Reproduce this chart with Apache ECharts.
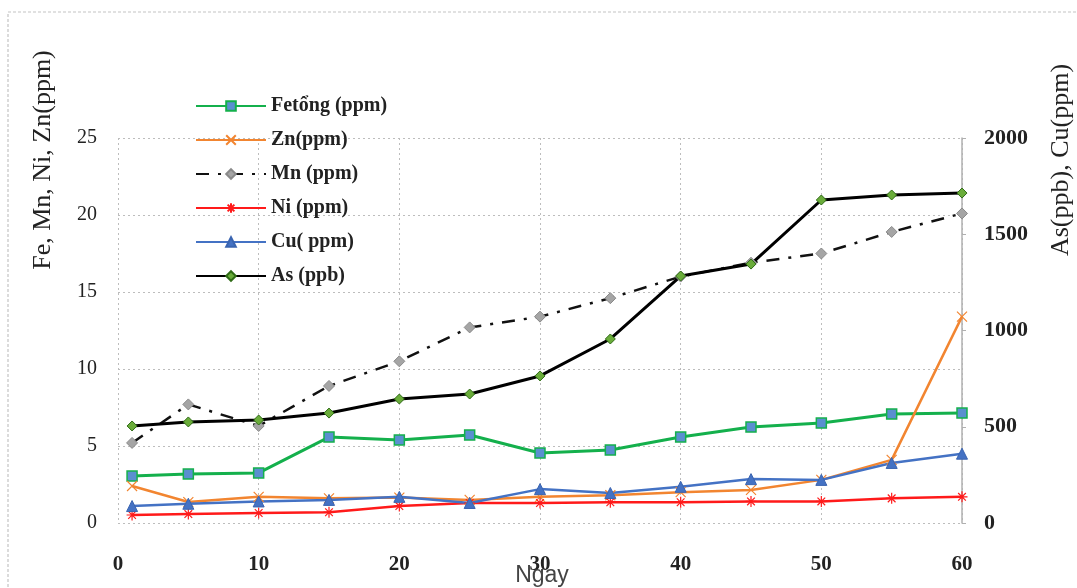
<!DOCTYPE html>
<html>
<head>
<meta charset="utf-8">
<style>
  html, body { margin: 0; padding: 0; background: #fff; }
  #chart { width: 1077px; height: 588px; }
</style>
<script src="https://cdn.jsdelivr.net/npm/echarts@6/dist/echarts.min.js"></script>
</head>
<body>
<div id="chart"></div>
<script>
// Sampling days
const days = [1, 5, 10, 15, 20, 25, 30, 35, 40, 45, 50, 55, 60];

// Left axis series (ppm)
const feTong = [3.05, 3.18, 3.25, 5.58, 5.39, 5.71, 4.55, 4.74, 5.58, 6.23, 6.49, 7.08, 7.14];
const zn = [2.4, 1.36, 1.7, 1.6, 1.65, 1.5, 1.7, 1.8, 2.0, 2.15, 2.8, 4.1, 13.4];
const mn = [5.2, 7.7, 6.3, 8.9, 10.5, 12.7, 13.4, 14.6, 16.0, 16.9, 17.5, 18.9, 20.1];
const ni = [0.52, 0.58, 0.65, 0.7, 1.1, 1.3, 1.3, 1.35, 1.35, 1.4, 1.4, 1.6, 1.7];

// Right axis series
const cu = [88, 100, 112, 120, 136, 104, 176, 156, 188, 228, 224, 312, 360];
const as = [504, 525, 535, 571, 644, 670, 764, 956, 1283, 1345, 1678, 1704, 1714];

// Axis ticks
const xTicks = { min: 0, max: 60, interval: 10 };
const leftTicks = { min: 0, max: 25, interval: 5 };
const rightTicks = { min: 0, max: 2000, interval: 500 };

const pairs = (vals) => days.map((d, i) => [d, vals[i]]);

const serif = '"Liberation Serif", "DejaVu Serif", serif';

const asteriskPath = 'path://M0,5 L10,5 M5,0 L5,10 M1.5,1.5 L8.5,8.5 M8.5,1.5 L1.5,8.5';
const crossPath = 'path://M1,1 L9,9 M9,1 L1,9';

const gridDots = { color: '#bdbdbd', type: [2, 3], width: 1 };

const chart = echarts.init(document.getElementById('chart'));
chart.setOption({
  animation: false,
  backgroundColor: '#fff',
  grid: { left: 118, right: 115, top: 138, bottom: 65 },
  legend: {
    orient: 'vertical',
    left: 190,
    top: 91,
    itemWidth: 70,
    itemHeight: 12,
    itemGap: 14,
    textStyle: { fontFamily: serif, fontSize: 20, fontWeight: 'bold', color: '#222' },
    data: ['Fetổng (ppm)', 'Zn(ppm)', 'Mn (ppm)', 'Ni (ppm)', 'Cu( ppm)', 'As (ppb)']
  },
  xAxis: {
    type: 'value',
    min: xTicks.min, max: xTicks.max, interval: xTicks.interval,
    axisLine: { show: false },
    axisTick: { show: false },
    axisLabel: { margin: 31, fontFamily: serif, fontSize: 21, fontWeight: 'bold', color: '#222' },
    splitLine: { show: true, lineStyle: gridDots }
  },
  yAxis: [
    {
      type: 'value',
      min: leftTicks.min, max: leftTicks.max, interval: leftTicks.interval,
      axisLine: { show: false },
      axisTick: { show: false },
      axisLabel: { margin: 21, fontFamily: serif, fontSize: 20, color: '#222' },
      splitLine: { show: true, lineStyle: gridDots }
    },
    {
      type: 'value',
      position: 'right',
      min: rightTicks.min, max: rightTicks.max, interval: rightTicks.interval,
      axisLine: { show: true, lineStyle: { color: '#b0b0b0', width: 1.5 } },
      axisTick: { show: true, length: 4, lineStyle: { color: '#b0b0b0' } },
      axisLabel: {
        margin: 22, fontFamily: serif, fontSize: 22, fontWeight: 'bold', color: '#222',
        formatter: (v) => String(v)
      },
      splitLine: { show: false }
    }
  ],
  series: [
    {
      name: 'Fetổng (ppm)', type: 'line', yAxisIndex: 0, data: pairs(feTong),
      symbol: 'rect', symbolSize: 10,
      lineStyle: { color: '#14b04c', width: 3 },
      itemStyle: { color: '#5a8fd0', borderColor: '#14b04c', borderWidth: 1.5 }
    },
    {
      name: 'Zn(ppm)', type: 'line', yAxisIndex: 0, data: pairs(zn),
      symbol: crossPath, symbolSize: 10,
      lineStyle: { color: '#f28530', width: 2.5 },
      itemStyle: { color: 'rgba(0,0,0,0)', borderColor: '#f28530', borderWidth: 1.2 }
    },
    {
      name: 'Mn (ppm)', type: 'line', yAxisIndex: 0, data: pairs(mn),
      symbol: 'diamond', symbolSize: 11,
      lineStyle: { color: '#111', width: 2.5, type: [13, 9, 3, 9] },
      itemStyle: { color: '#a5a5a5', borderColor: '#8a8a8a', borderWidth: 1 }
    },
    {
      name: 'Ni (ppm)', type: 'line', yAxisIndex: 0, data: pairs(ni),
      symbol: asteriskPath, symbolSize: 11,
      lineStyle: { color: '#ff1a1a', width: 2.5 },
      itemStyle: { color: 'rgba(0,0,0,0)', borderColor: '#ff1a1a', borderWidth: 1.2 }
    },
    {
      name: 'Cu( ppm)', type: 'line', yAxisIndex: 1, data: pairs(cu),
      symbol: 'triangle', symbolSize: 11,
      lineStyle: { color: '#4472c4', width: 2.5 },
      itemStyle: { color: '#4472c4', borderColor: '#3a64b0', borderWidth: 1 }
    },
    {
      name: 'As (ppb)', type: 'line', yAxisIndex: 1, data: pairs(as),
      symbol: 'diamond', symbolSize: 10,
      lineStyle: { color: '#000', width: 3 },
      itemStyle: { color: '#6aac3a', borderColor: '#2f6b16', borderWidth: 1 }
    }
  ],
  graphic: [
    {
      type: 'rect', silent: true, z: -1,
      shape: { x: 8, y: 12, width: 1200, height: 700 },
      style: { fill: 'none', stroke: '#c4c4c4', lineWidth: 1.2, lineDash: [3, 2] }
    },
    {
      type: 'text', x: 43, y: 160, rotation: Math.PI / 2,
      style: {
        text: 'Fe, Mn, Ni, Zn(ppm)', align: 'center', verticalAlign: 'middle',
        font: '26px "Liberation Serif", serif', fill: '#222'
      }
    },
    {
      type: 'text', x: 1061, y: 160, rotation: Math.PI / 2,
      style: {
        text: 'As(ppb), Cu(ppm)', align: 'center', verticalAlign: 'middle',
        font: '26px "Liberation Serif", serif', fill: '#222'
      }
    },
    {
      type: 'text', x: 542, y: 576,
      style: {
        text: 'Ngay', align: 'center', verticalAlign: 'middle',
        font: '23px "Liberation Sans", Arial, sans-serif', fill: '#444'
      }
    }
  ]
});
</script>
</body>
</html>
